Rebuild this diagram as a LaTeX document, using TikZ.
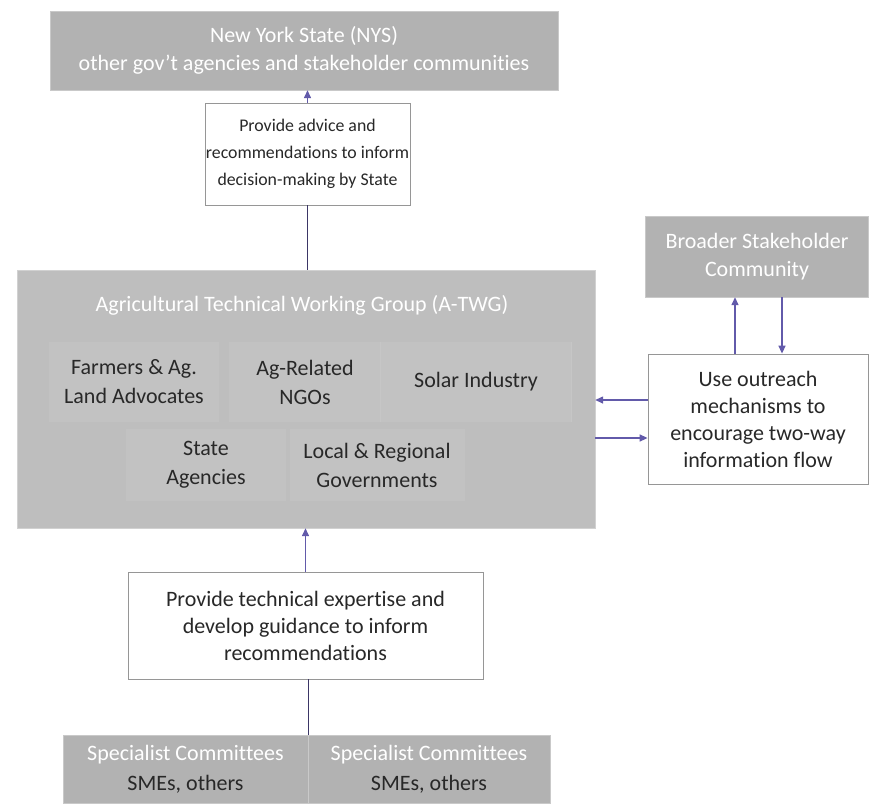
\documentclass[tikz,border=0pt]{standalone}
\usepackage{fontspec}
\setmainfont{Carlito}[Ligatures=NoCommon]
\usetikzlibrary{arrows.meta, positioning}
\definecolor{cBox}{RGB}{178,178,178}
\definecolor{cGroup}{RGB}{190,190,190}
\definecolor{cCell}{RGB}{194,194,194}
\definecolor{cEdge}{RGB}{150,150,150}
\definecolor{cLink}{RGB}{98,90,170}
\definecolor{cInk}{RGB}{40,40,40}
\tikzset{
  basebox/.style={rectangle, inner sep=0pt, align=center},
  graybox/.style={basebox, fill=cBox, draw=cBox!70!white,
                  text=white, font=\fontsize{22}{28}\selectfont},
  groupbox/.style={basebox, fill=cGroup, draw=cGroup!70!white},
  whitebox/.style={basebox, fill=white, draw=cEdge, line width=0.8pt,
                   text=cInk, font=\fontsize{22}{27}\selectfont},
  cellnode/.style={basebox, fill=cCell, text=cInk,
                   font=\fontsize{22}{29}\selectfont},
  sepline/.style={draw=gray!45, line width=1pt},
  linkarrow/.style={-{Triangle[length=8pt, width=7pt]}, line width=1.4pt, color=cLink},
  linkline/.style={line width=1.4pt, color=cLink!60!black}
}
\begin{document}
\begin{tikzpicture}[x=1pt, y=-1pt]
  \useasboundingbox (0,0) rectangle (871,807);

  % --- top: State ---
  \node[graybox, minimum width=508pt, minimum height=79pt] (nys) at (304,50.5)
      {New York State (NYS)\\other gov't agencies and stakeholder communities};

  \node[whitebox, minimum width=205pt, minimum height=102pt,
        font=\fontsize{17.8}{27}\selectfont] (advice) at (307.5,154)
      {Provide advice and\\recommendations to inform\\decision-making by State};

  % --- A-TWG group ---
  \node[groupbox, minimum width=578pt, minimum height=258pt] (atwg) at (306,399) {};
  \node[basebox, text=white, font=\fontsize{22}{28}\selectfont] (atwgtitle) at (302,305)
      {Agricultural Technical Working Group (A-TWG)};

  \node[cellnode, minimum width=170pt, minimum height=80pt] (farmers) at (134,382)
      {Farmers \& Ag.\\Land Advocates};
  \node[cellnode, minimum width=152pt, minimum height=80pt] (ngos) at (305,382)
      {Ag-Related\\NGOs};
  \node[cellnode, minimum width=190pt, minimum height=80pt] (solar) at (476,382)
      {Solar Industry};
  \node[cellnode, minimum width=160pt, minimum height=72pt] (stateag) at (206,465)
      {State\\Agencies};
  \node[cellnode, minimum width=175pt, minimum height=72pt] (localgov) at (377,465)
      {Local \& Regional\\Governments};
  \draw[sepline] (solar.north west) -- (solar.south west);
  \draw[sepline] (solar.north east) -- (solar.south east);

  % --- right: outreach ---
  \node[whitebox, minimum width=220pt, minimum height=130pt] (outreach) at (758,419)
      {Use outreach\\mechanisms to\\encourage two-way\\information flow};
  \node[graybox, minimum width=223pt, minimum height=81pt] (broader) at (757,256.5)
      {Broader Stakeholder\\Community};

  % --- bottom: committees ---
  \node[whitebox, minimum width=355pt, minimum height=107pt] (expertise) at (305.5,625.5)
      {Provide technical expertise and\\develop guidance to inform\\recommendations};
  \node[graybox, minimum width=245pt, minimum height=68pt, font=\fontsize{22}{30}\selectfont] (spec_a) at (185.5,769)
      {Specialist Committees\\{\color{cInk}SMEs, others}};
  \node[graybox, minimum width=242pt, minimum height=68pt, font=\fontsize{22}{30}\selectfont] (spec_b) at (429,769)
      {Specialist Committees\\{\color{cInk}SMEs, others}};

  % --- connectors ---
  \draw[linkarrow] (advice.north) -- (advice.north |- nys.south);
  \draw[linkline] (advice.south) -- (advice.south |- atwg.north);
  \draw[linkarrow] (expertise.north) -- (expertise.north |- atwg.south);
  \draw[linkline] (spec_a.north east) -- (spec_a.north east |- expertise.south);
  \draw[linkarrow] ([yshift=19pt]outreach.west) -- ([yshift=19pt]outreach.west -| atwg.east);
  \draw[linkarrow] ([yshift=-19pt]outreach.west -| atwg.east) -- ([yshift=-19pt]outreach.west);
  \draw[linkarrow] ([xshift=-23pt]outreach.north) -- ([xshift=-23pt]outreach.north |- broader.south);
  \draw[linkarrow] ([xshift=25pt]broader.south) -- ([xshift=25pt]broader.south |- outreach.north);

\end{tikzpicture}
\end{document}
